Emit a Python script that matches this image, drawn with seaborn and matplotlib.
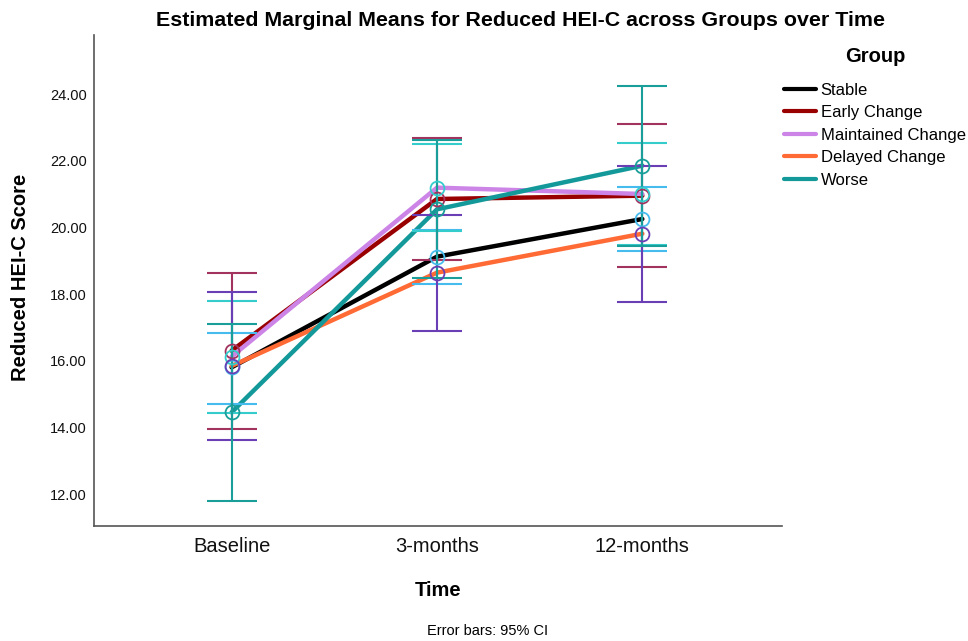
import numpy as np
import pandas as pd
import matplotlib
matplotlib.use("Agg")
import matplotlib.pyplot as plt
import seaborn as sns

# ---- data ----
times = ["Baseline", "3-months", "12-months"]
groups = ["Stable", "Early Change", "Maintained Change", "Delayed Change", "Worse"]

stable_mean = [15.80, 19.12, 20.25]
early_mean = [16.30, 20.85, 20.95]
maintained_mean = [16.12, 21.19, 21.00]
delayed_mean = [15.84, 18.64, 19.81]
worse_mean = [14.45, 20.54, 21.85]

stable_lo = [14.70, 18.29, 19.29]
stable_hi = [16.84, 19.91, 21.22]
early_lo = [13.95, 19.03, 18.80]
early_hi = [18.63, 22.67, 23.09]
maintained_lo = [14.44, 19.88, 19.48]
maintained_hi = [17.80, 22.50, 22.52]
delayed_lo = [13.62, 16.90, 17.77]
delayed_hi = [18.06, 20.37, 21.85]
worse_lo = [11.80, 18.47, 19.45]
worse_hi = [17.10, 22.61, 24.25]

yticks = [12, 14, 16, 18, 20, 22, 24]

means = [stable_mean, early_mean, maintained_mean, delayed_mean, worse_mean]
los = [stable_lo, early_lo, maintained_lo, delayed_lo, worse_lo]
his = [stable_hi, early_hi, maintained_hi, delayed_hi, worse_hi]

line_colors = ["#000000", "#990000", "#cc85e6", "#ff6a35", "#14999a"]
bar_colors = ["#45bbee", "#a2335f", "#35cccc", "#6a3fb5", "#1a9e9a"]

df = pd.DataFrame({
    "Time": times * len(groups),
    "Group": [g for g in groups for _ in times],
    "Score": [v for m in means for v in m],
})

sns.set_style("white")
plt.rcParams["font.family"] = ["Liberation Sans", "DejaVu Sans"]
plt.rcParams["text.color"] = "black"
plt.rcParams["axes.labelcolor"] = "black"
plt.rcParams["xtick.color"] = "black"
plt.rcParams["ytick.color"] = "black"

fig = plt.figure(figsize=(9.68, 6.41), dpi=100)
ax = fig.add_axes([94 / 968, 1 - 526 / 641, (782 - 94) / 968, (526 - 35) / 641])

sns.lineplot(data=df, x="Time", y="Score", hue="Group", hue_order=groups,
             palette=line_colors, linewidth=3.2, ax=ax, sort=False, legend=True, zorder=2)

for g, m, lo, hi, c in zip(groups, means, los, his, bar_colors):
    m = np.array(m)
    yerr = [m - np.array(lo), np.array(hi) - m]
    ax.errorbar(times, m, yerr=yerr, fmt="none", ecolor=c, elinewidth=1.5,
                capsize=18, capthick=1.5, zorder=3)
for m, c in zip(means, bar_colors):
    ax.plot(times, m, "o", mfc="none", mec=c, ms=10, mew=1.3, zorder=4)

ax.set_xlim(-0.67, 2.68)
ax.set_ylim(11.04, 25.77)
ax.set_yticks(yticks)
ax.set_yticklabels([f"{v:.2f}" for v in yticks], fontsize=10.5)
ax.tick_params(axis="y", length=0, pad=5, labelcolor="#111111")
ax.tick_params(axis="x", length=0, pad=8, labelsize=14.5, labelcolor="#111111")
ax.set_xlabel("")
ax.set_ylabel("")
for s in ["top", "right"]:
    ax.spines[s].set_visible(False)
for s in ["left", "bottom"]:
    ax.spines[s].set_color("#555555")
    ax.spines[s].set_linewidth(1.2)

handles, labels = ax.get_legend_handles_labels()
ax.get_legend().remove()
for h in handles:
    h.set_linewidth(3)
leg = fig.legend(handles, labels, loc="upper left", bbox_to_anchor=(784 / 968, 1 - 47 / 641),
                 frameon=False, fontsize=12, title="Group", borderpad=0,
                 handlelength=1.9, handletextpad=0.3, labelspacing=0.45,
                 borderaxespad=0)
leg.get_title().set_fontsize(14.5)
leg.get_title().set_fontweight("bold")
leg._legend_box.sep = 12

fig.text(520 / 968, 1 - 20 / 641,
         "Estimated Marginal Means for Reduced HEI-C across Groups over Time",
         ha="center", va="center", fontsize=15.4, fontweight="bold")
fig.text(21 / 968, 1 - 277 / 641, "Reduced HEI-C Score", rotation=90,
         ha="center", va="center", fontsize=14.5, fontweight="bold")
fig.text(438 / 968, 1 - 590 / 641, "Time", ha="center", va="center",
         fontsize=14.5, fontweight="bold")
fig.text(488 / 968, 1 - 631 / 641, "Error bars: 95% CI", ha="center", va="center",
         fontsize=10.5)

fig.savefig("out.png", dpi=100)
